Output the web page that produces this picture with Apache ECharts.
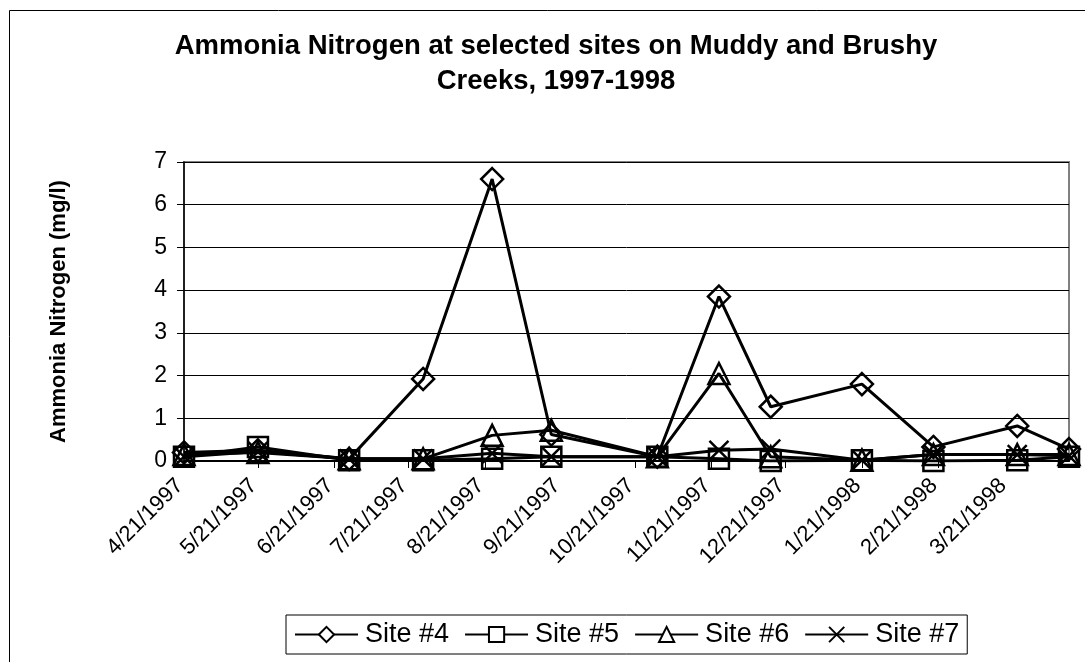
<!DOCTYPE html>
<html>
<head>
<meta charset="utf-8">
<script src="https://cdn.jsdelivr.net/npm/echarts@6/dist/echarts.min.js"></script>
<style>
html,body{margin:0;padding:0;background:#fff;}
#c{width:1085px;height:662px;}
</style>
</head>
<body>
<div id="c"></div>
<script>
// ---- data ----
const sampleDates = ['4/21/1997','5/21/1997','6/27/1997','7/27/1997','8/24/1997','9/17/1997','10/30/1997','11/24/1997','12/15/1997','1/21/1998','2/19/1998','3/25/1998','4/15/1998'];
const site4 = [0.2, 0.25, 0.05, 1.92, 6.6, 0.62, 0.1, 3.85, 1.27, 1.8, 0.33, 0.82, 0.28];
const site5 = [0.1, 0.33, 0.02, 0.02, 0.05, 0.1, 0.1, 0.05, 0.0, 0.02, 0.0, 0.02, 0.1];
const site6 = [0.15, 0.2, 0.05, 0.05, 0.6, 0.72, 0.1, 2.05, 0.1, 0.02, 0.15, 0.15, 0.15];
const site7 = [0.1, 0.22, 0.05, 0.05, 0.18, 0.1, 0.1, 0.25, 0.28, 0.02, 0.15, 0.15, 0.12];
const tickLabels = ['4/21/1997','5/21/1997','6/21/1997','7/21/1997','8/21/1997','9/21/1997','10/21/1997','11/21/1997','12/21/1997','1/21/1998','2/21/1998','3/21/1998'];
const seriesNames = ['Site #4','Site #5','Site #6','Site #7'];
const yTicks = [0,1,2,3,4,5,6,7];

function parseDate(s){ const p = s.split('/').map(Number); return Date.UTC(p[2], p[0]-1, p[1]); }
const xs = sampleDates.map(parseDate);
const tickVals = tickLabels.map(parseDate);
const labelMap = {};
tickVals.forEach((v,i)=>{ labelMap[v] = tickLabels[i]; });

const FONT = 'Liberation Sans, Arial, sans-serif';
const xPath = 'path://M0,0L10,10M10,0L0,10';
const symbols = ['diamond','rect','triangle', xPath];
const sizes = [22, 20, 21, 19];
const all = [site4, site5, site6, site7];

const chart = echarts.init(document.getElementById('c'), null, {renderer:'canvas'});
const series = all.map((arr, k) => ({
  name: seriesNames[k],
  type: 'line',
  data: arr.map((v,i)=>[xs[i], v]),
  symbol: symbols[k],
  symbolSize: sizes[k],
  showAllSymbol: true,
  lineStyle: {color:'#000', width: 3},
  itemStyle: {color:'rgba(255,255,255,0)', borderColor:'#000', borderWidth: 2.5},
  emphasis: {disabled: true},
  z: 2 + k,
  animation: false
}));

chart.setOption({
  backgroundColor: '#fff',
  animation: false,
  graphic: [{
    type: 'rect', left: 7, top: 8, silent: true,
    shape: {x:0, y:0, width: 1200, height: 900},
    style: {fill: 'none', stroke: '#000', lineWidth: 1}
  }],
  title: {
    text: 'Ammonia Nitrogen at selected sites on Muddy and Brushy\nCreeks, 1997-1998',
    left: 551, top: 24, textAlign: 'center',
    textStyle: {fontFamily: FONT, fontWeight: 'bold', fontSize: 27.5, color: '#000', lineHeight: 35}
  },
  legend: {
    data: seriesNames.map(n => ({name: n, itemStyle: {color: '#fff'}})),
    left: 286, top: 615,
    orient: 'horizontal',
    borderColor: '#000', borderWidth: 1,
    padding: [6, 8, 6, 8],
    itemGap: 15,
    itemWidth: 63, itemHeight: 19,
    textStyle: {fontFamily: FONT, fontSize: 27, color: '#000', padding: [0,0,0,2]}
  },
  grid: {
    left: 184, right: 16, top: 162, bottom: 201,
    show: true, borderColor: '#808080', borderWidth: 2, backgroundColor: 'transparent'
  },
  xAxis: {
    type: 'value',
    min: xs[0], max: xs[xs.length-1],
    axisLine: {show: true, lineStyle: {color: '#000', width: 2}},
    axisTick: {show: true, inside: false, length: 7, customValues: tickVals, lineStyle: {color:'#000', width: 1}},
    splitLine: {show: false},
    axisLabel: {
      customValues: tickVals,
      rotate: 45,
      margin: 17,
      fontFamily: FONT, fontSize: 22, color: '#000',
      padding: [0, 6, 0, 0],
      formatter: v => labelMap[v] || ''
    }
  },
  yAxis: {
    type: 'value',
    min: 0, max: 7, interval: 1,
    name: 'Ammonia Nitrogen (mg/l)',
    nameLocation: 'middle',
    nameGap: 114,
    nameRotate: 90,
    nameTextStyle: {fontFamily: FONT, fontWeight: 'bold', fontSize: 22, color: '#000'},
    axisLine: {show: true, lineStyle: {color: '#000', width: 1.5}},
    axisTick: {show: true, inside: false, length: 7, lineStyle: {color:'#000'}},
    splitLine: {show: true, lineStyle: {color: '#000', width: 1}},
    axisLabel: {
      margin: 17,
      fontFamily: FONT, fontSize: 23, color: '#000',
      formatter: v => (yTicks.indexOf(v) >= 0 ? String(v) : '')
    }
  },
  series: series
});
</script>
</body>
</html>
